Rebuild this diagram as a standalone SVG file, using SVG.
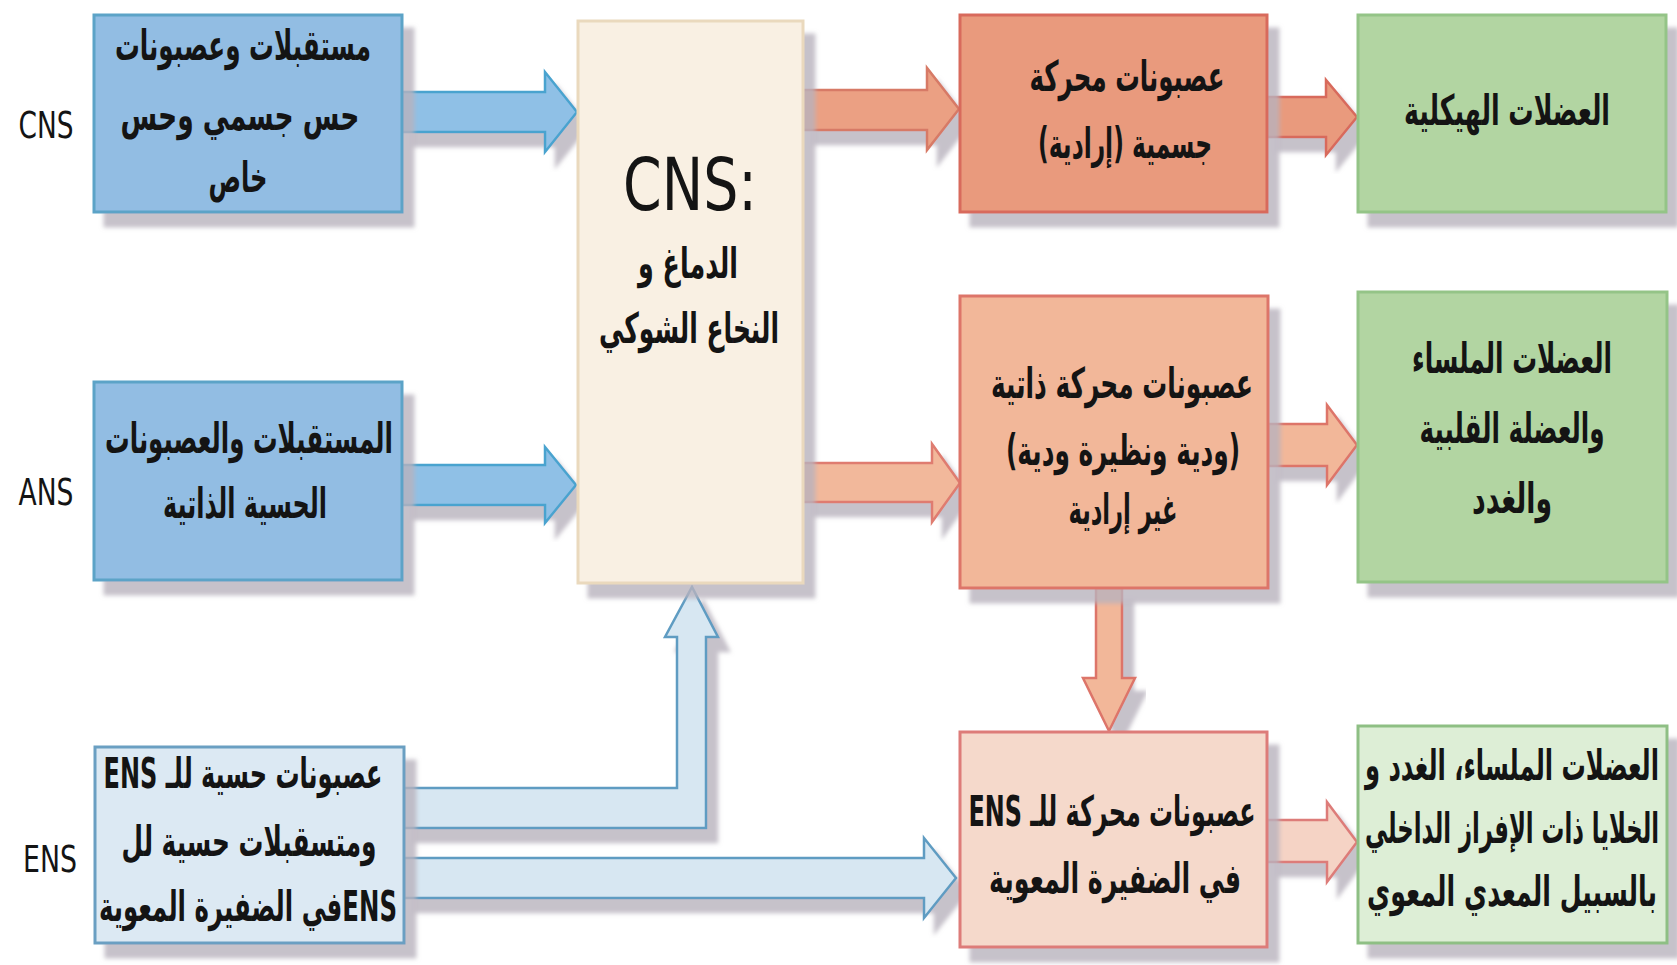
<svg xmlns="http://www.w3.org/2000/svg" width="1677" height="965" viewBox="0 0 1677 965">
<defs>
<filter id="sh" x="-10%" y="-10%" width="130%" height="135%">
<feDropShadow dx="11" dy="14" stdDeviation="2" flood-color="#b8b2bd" flood-opacity="0.8"/>
</filter>
<style>
.box{stroke-width:3;filter:url(#sh)}
.blue{fill:#92bde3;stroke:#5ba3c7}
.ens{fill:#dce9f3;stroke:#6a9fc2}
.cns{fill:#f9f0e3;stroke:#ead9bd}
.m1{fill:#e99a7d;stroke:#d86a5c}
.m2{fill:#f2b799;stroke:#dd7469}
.m3{fill:#f5d9cb;stroke:#dd7b79}
.g{fill:#b2d5a2;stroke:#94c487}
.g3{fill:#ddeed6;stroke:#8ebf84}
.arr{stroke-width:2.5;stroke-linejoin:miter;filter:url(#sh)}
.ab{fill:#8fc0e6;stroke:#4aa3cf}
.ae{fill:#d7e7f2;stroke:#5f9cc2}
.ao1{fill:#eba083;stroke:#d77a66}
.ao2{fill:#f2b89b;stroke:#df7c6f}
.ao3{fill:#f5d3c5;stroke:#dd7b79}
.ar{font-family:"DejaVu Sans",sans-serif;font-size:42px;font-weight:bold;fill:#141414;text-anchor:middle;direction:rtl}
.lat{font-family:"DejaVu Sans",sans-serif;fill:#141414;text-anchor:middle}
</style>
</defs>
<rect width="1677" height="965" fill="#ffffff"/>

<g id="connectors">
<path class="arr ab" d="M402,92 H545 V72 L577,112 L545,152 V132 H402 Z"/>
<path class="arr ab" d="M402,465 H545 V447 L576,485 L545,523 V505 H402 Z"/>
<path class="arr ae" d="M404,788 H677 V637 H665 L692,587 L718,637 H706 V828 H404 Z"/>
<path class="arr ae" d="M404,858 H924 V838 L956,878 L924,918 V898 H404 Z"/>
<path class="arr ao1" d="M803,90 H927 V68 L959,109 L927,150 V130 H803 Z"/>
<path class="arr m1" d="M1267,97 H1326 V80 L1357,117 L1326,155 V137 H1267 Z"/>
<path class="arr ao2" d="M803,463 H932 V444 L960,483 L932,522 V502 H803 Z"/>
<path class="arr m2" d="M1268,424 H1327 V405 L1357,445 L1327,485 V466 H1268 Z"/>
<path class="arr m2" d="M1096,588 V678 H1083 L1109,731 L1135,678 H1122 V588 Z"/>
<path class="arr ao3" d="M1267,820 H1327 V802 L1357,842 L1327,882 V862 H1267 Z"/>
</g>

<g id="side-labels">
<text class="lat" x="46" y="138" font-size="38" textLength="55" lengthAdjust="spacingAndGlyphs">CNS</text>
<text class="lat" x="46" y="505" font-size="38" textLength="55" lengthAdjust="spacingAndGlyphs">ANS</text>
<text class="lat" x="50" y="872" font-size="38" textLength="54" lengthAdjust="spacingAndGlyphs">ENS</text>
</g>

<g id="cns-sensory">
<rect class="box blue" x="94" y="15" width="308" height="197"/>
<text class="ar" x="243" y="60" textLength="256" lengthAdjust="spacingAndGlyphs">مستقبلات وعصبونات</text>
<text class="ar" x="240" y="130" textLength="239" lengthAdjust="spacingAndGlyphs">حس جسمي وحس</text>
<text class="ar" x="238" y="192" textLength="59" lengthAdjust="spacingAndGlyphs">خاص</text>
</g>

<g id="ans-sensory">
<rect class="box blue" x="94" y="382" width="308" height="198"/>
<text class="ar" x="249" y="453" textLength="288" lengthAdjust="spacingAndGlyphs">المستقبلات والعصبونات</text>
<text class="ar" x="245" y="518" textLength="164" lengthAdjust="spacingAndGlyphs">الحسية الذاتية</text>
</g>

<g id="ens-sensory">
<rect class="box ens" x="95" y="747" width="309" height="196"/>
<text class="ar" x="243" y="788" textLength="279" lengthAdjust="spacingAndGlyphs">عصبونات حسية للـ ENS</text>
<text class="ar" x="249" y="856" textLength="255" lengthAdjust="spacingAndGlyphs">ومتسقبلات حسية لل</text>
<text class="ar" x="248" y="921" textLength="298" lengthAdjust="spacingAndGlyphs">ENSفي الضفيرة المعوية</text>
</g>

<g id="cns-center">
<rect class="box cns" x="578" y="21" width="225" height="562"/>
<text class="lat" x="690" y="210" font-size="73" textLength="134" lengthAdjust="spacingAndGlyphs">CNS:</text>
<text class="ar" x="688" y="278" textLength="100" lengthAdjust="spacingAndGlyphs">الدماغ و</text>
<text class="ar" x="689" y="343" textLength="180" lengthAdjust="spacingAndGlyphs">النخاع الشوكي</text>
</g>

<g id="somatic-motor">
<rect class="box m1" x="960" y="15" width="307" height="197"/>
<text class="ar" x="1127" y="91" textLength="195" lengthAdjust="spacingAndGlyphs">عصبونات محركة</text>
<text class="ar" x="1125" y="158" textLength="174" lengthAdjust="spacingAndGlyphs">جسمية (إرادية)</text>
</g>

<g id="autonomic-motor">
<rect class="box m2" x="960" y="296" width="308" height="292"/>
<text class="ar" x="1122" y="398" textLength="262" lengthAdjust="spacingAndGlyphs">عصبونات محركة ذاتية</text>
<text class="ar" x="1123" y="465" textLength="234" lengthAdjust="spacingAndGlyphs">(ودية ونظيرة ودية)</text>
<text class="ar" x="1123" y="524" textLength="109" lengthAdjust="spacingAndGlyphs">غير إرادية</text>
</g>

<g id="ens-motor">
<rect class="box m3" x="960" y="732" width="307" height="215"/>
<text class="ar" x="1112" y="826" textLength="287" lengthAdjust="spacingAndGlyphs">عصبونات محركة للـ ENS</text>
<text class="ar" x="1115" y="893" textLength="252" lengthAdjust="spacingAndGlyphs">في الضفيرة المعوية</text>
</g>

<g id="skeletal">
<rect class="box g" x="1358" y="15" width="308" height="197"/>
<text class="ar" x="1507" y="125" textLength="206" lengthAdjust="spacingAndGlyphs">العضلات الهيكلية</text>
</g>

<g id="smooth-cardiac">
<rect class="box g" x="1358" y="292" width="309" height="290"/>
<text class="ar" x="1512" y="373" textLength="200" lengthAdjust="spacingAndGlyphs">العضلات الملساء</text>
<text class="ar" x="1512" y="443" textLength="185" lengthAdjust="spacingAndGlyphs">والعضلة القلبية</text>
<text class="ar" x="1512" y="513" textLength="80" lengthAdjust="spacingAndGlyphs">والغدد</text>
</g>

<g id="gi-effectors">
<rect class="box g3" x="1358" y="726" width="309" height="217"/>
<text class="ar" x="1512" y="780" textLength="294" lengthAdjust="spacingAndGlyphs">العضلات الملساء، الغدد و</text>
<text class="ar" x="1512" y="843" textLength="294" lengthAdjust="spacingAndGlyphs">الخلايا ذات الإفراز الداخلي</text>
<text class="ar" x="1512" y="906" textLength="290" lengthAdjust="spacingAndGlyphs">بالسبيل المعدي المعوي</text>
</g>
</svg>
